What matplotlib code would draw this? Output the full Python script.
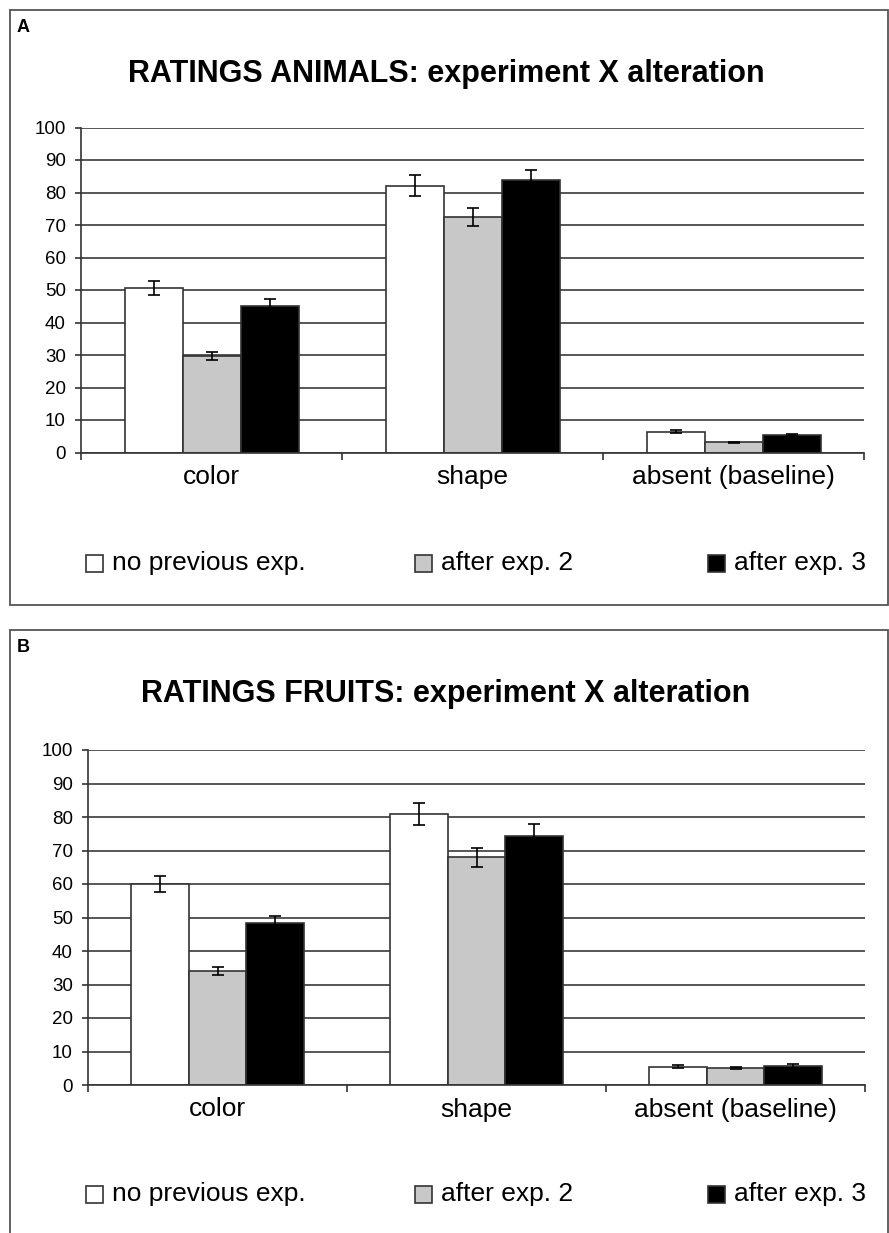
import matplotlib
matplotlib.use("Agg")
import matplotlib.pyplot as plt
import matplotlib.patches as mpatches
import numpy as np

plt.rcParams['font.family'] = ['Liberation Sans', 'DejaVu Sans']

# data
categories = ["color", "shape", "absent (baseline)"]
series = ["no previous exp.", "after exp. 2", "after exp. 3"]
colors = ["white", "#c8c8c8", "black"]

animals_means = [[50.6, 82.1, 6.4],
                 [29.7, 72.4, 3.1],
                 [45.2, 83.8, 5.4]]
animals_err = [[2.1, 3.3, 0.4],
               [1.3, 2.8, 0.2],
               [2.0, 3.2, 0.4]]

fruits_means = [[60.0, 80.9, 5.5],
                [34.1, 68.0, 5.0],
                [48.3, 74.4, 5.7]]
fruits_err = [[2.5, 3.3, 0.4],
              [1.2, 2.8, 0.3],
              [2.0, 3.4, 0.5]]

W, H = 889, 1233
fig = plt.figure(figsize=(W / 100, H / 100), dpi=100)


def fx(x):
    return x / W


def fy(y):
    return 1 - y / H


def panel(letter, title, means, errs, top, bottom, ax_box, yleg):
    # frame around the panel
    fig.patches.append(mpatches.Rectangle((fx(10), fy(bottom)), fx(878), (bottom - top) / H,
                                          transform=fig.transFigure, fill=False,
                                          edgecolor="#555555", lw=1.3))
    fig.text(fx(17), fy(top + 17), letter, fontsize=13, fontweight="bold", va="center")
    fig.text(fx(446), fy(top + 64), title, fontsize=22, fontweight="bold",
             ha="center", va="center")

    l, r, t, b = ax_box
    ax = fig.add_axes([fx(l), fy(b), (r - l) / W, (b - t) / H])
    x = np.arange(len(categories))
    w = 1 / 4.5
    for i in range(len(series)):
        ax.bar(x + (i - 1) * w, means[i], w, color=colors[i], edgecolor="#333333",
               linewidth=1.2, zorder=2)
        ax.errorbar(x + (i - 1) * w, means[i], yerr=errs[i], fmt="none", ecolor="black",
                    elinewidth=1.2, capsize=4.5, capthick=1.2, zorder=3)
    ax.set_xlim(-0.5, 2.5)
    ax.set_ylim(0, 100)
    ax.set_yticks(range(0, 101, 10))
    ax.yaxis.grid(True, color="#3a3a3a", linewidth=1.2)
    ax.set_axisbelow(True)
    for s in ["top", "right"]:
        ax.spines[s].set_visible(False)
    for s in ["left", "bottom"]:
        ax.spines[s].set_color("#333333")
        ax.spines[s].set_linewidth(1.2)
    ax.tick_params(axis="y", direction="out", length=4, width=1.2, labelsize=13.5,
                   pad=7, color="#333333")
    ax.set_xticks(x)
    ax.set_xticklabels(categories, fontsize=19)
    ax.set_xticks([-0.5, 0.5, 1.5, 2.5], minor=True)
    ax.tick_params(axis="x", which="major", length=0, pad=9)
    ax.tick_params(axis="x", which="minor", direction="out", length=5, width=1.2,
                   color="#333333")

    # legend
    sq_x = [86, 415, 708]
    for i in range(len(series)):
        fig.patches.append(mpatches.Rectangle((fx(sq_x[i]), fy(yleg + 9)), 17 / W, 17 / H,
                                              transform=fig.transFigure,
                                              facecolor=colors[i], edgecolor="#333333",
                                              lw=1.2))
        fig.text(fx(sq_x[i] + 26), fy(yleg), series[i], fontsize=19, va="center")
    return ax


panel("A", "RATINGS ANIMALS: experiment X alteration", animals_means, animals_err,
      10, 605, (81, 864, 127.5, 452.5), 563)
panel("B", "RATINGS FRUITS: experiment X alteration", fruits_means, fruits_err,
      630, 1250, (88, 865, 750, 1085), 1194)

fig.savefig("out.png", dpi=100, facecolor="white")
